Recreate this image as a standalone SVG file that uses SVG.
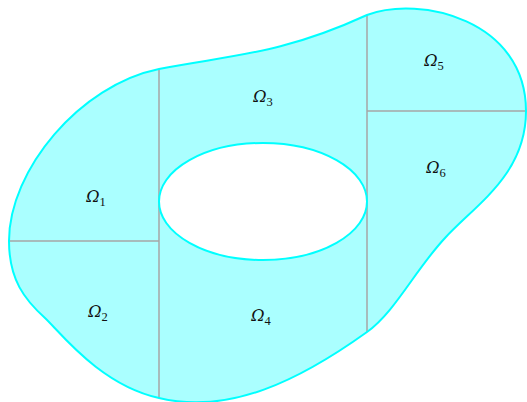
<svg xmlns="http://www.w3.org/2000/svg" width="527" height="402" viewBox="0 0 527 402">
<style>
.region{fill:#aaffff;stroke:none}
.bound{fill:none;stroke:#00ffff;stroke-width:2}
.hole{fill:#ffffff;stroke:#00ffff;stroke-width:2}
.div{stroke:#a6a6a6;stroke-width:1.5;fill:none}
.lbl{font-family:"DejaVu Serif",serif;font-size:16px;font-style:italic;fill:#111111;text-anchor:middle}
.sub{font-family:"Liberation Serif",serif;font-style:normal;font-size:12.5px}
</style>
<g id="domain">
<path class="region" d="M 9,241 C 9,170 80,85 159,69 C 230,55 280,55 367,15 C 420,-5 526,20 526,111 C 526,175 475,205 445,238 C 415,270 395,312 367,332 C 300,380 230,415 159,398 C 100,385 60,332 45,318 C 25,300 9,280 9,241 Z"/>
</g>
<g id="connectors">
<line class="div" x1="159" y1="69" x2="159" y2="398"/>
<line class="div" x1="9" y1="241" x2="159" y2="241"/>
<line class="div" x1="367" y1="15" x2="367" y2="332"/>
<line class="div" x1="367" y1="111" x2="526" y2="111"/>
</g>
<g id="boundary">
<path class="bound" d="M 9,241 C 9,170 80,85 159,69 C 230,55 280,55 367,15 C 420,-5 526,20 526,111 C 526,175 475,205 445,238 C 415,270 395,312 367,332 C 300,380 230,415 159,398 C 100,385 60,332 45,318 C 25,300 9,280 9,241 Z"/>
</g>
<g id="hole">
<ellipse class="hole" cx="263" cy="201.5" rx="104" ry="58.5"/>
</g>
<g id="omega1"><text class="lbl" x="96" y="202">Ω<tspan class="sub" dy="4">1</tspan></text></g>
<g id="omega2"><text class="lbl" x="98" y="317">Ω<tspan class="sub" dy="4">2</tspan></text></g>
<g id="omega3"><text class="lbl" x="263" y="102">Ω<tspan class="sub" dy="4">3</tspan></text></g>
<g id="omega4"><text class="lbl" x="261" y="321">Ω<tspan class="sub" dy="4">4</tspan></text></g>
<g id="omega5"><text class="lbl" x="434" y="66">Ω<tspan class="sub" dy="4">5</tspan></text></g>
<g id="omega6"><text class="lbl" x="436" y="173">Ω<tspan class="sub" dy="4">6</tspan></text></g>
</svg>
